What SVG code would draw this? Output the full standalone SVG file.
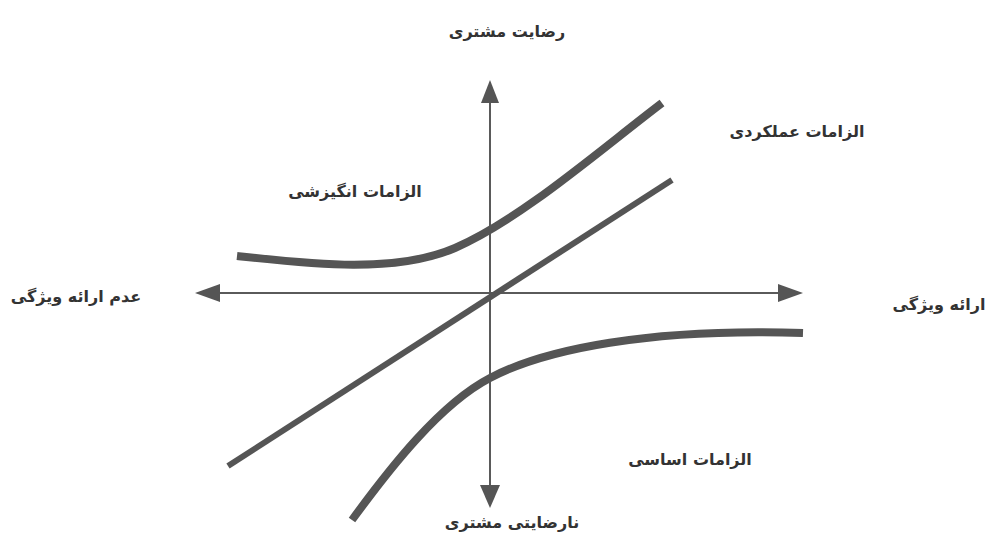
<svg xmlns="http://www.w3.org/2000/svg" width="989" height="535" viewBox="0 0 989 535">
<style>
.axis{stroke:#5a5a5a;stroke-width:2;fill:none}
.curve{stroke:#555;stroke-width:8;fill:none;stroke-linecap:butt}
.line{stroke:#555;stroke-width:6;fill:none}
.lbl{font-family:"DejaVu Sans",sans-serif;font-weight:bold;font-size:16px;fill:#333;text-anchor:middle}
.head{fill:#555}
</style>
<rect width="989" height="535" fill="#fff"/>
<g id="connectors">
<line class="axis" x1="490" y1="100" x2="490" y2="490"/>
<line class="axis" x1="218" y1="293" x2="780" y2="293"/>
<polygon class="head" points="490,80 481,103 499,103"/>
<polygon class="head" points="490,508 480,485 500,485"/>
<polygon class="head" points="195,293 220,284 220,302"/>
<polygon class="head" points="803,293 778,284 778,302"/>
<path class="curve" d="M237,256 C310,264 395,274 455,248 C520,220 600,150 662,103"/>
<path class="line" d="M228,466 L672,180"/>
<path class="curve" d="M352,520 C390,468 440,404 490,378 C545,349 650,328 803,333"/>
</g>
<g id="n-top"><text class="lbl" x="507" y="37">رضایت مشتری</text></g>
<g id="n-performance"><text class="lbl" x="797" y="137">الزامات عملکردی</text></g>
<g id="n-excitement"><text class="lbl" x="355" y="197">الزامات انگیزشی</text></g>
<g id="n-left"><text class="lbl" x="76" y="302">عدم ارائه ویژگی</text></g>
<g id="n-right"><text class="lbl" x="939" y="310">ارائه ویژگی</text></g>
<g id="n-basic"><text class="lbl" x="690" y="465">الزامات اساسی</text></g>
<g id="n-bottom"><text class="lbl" x="512" y="528">نارضایتی مشتری</text></g>
</svg>
